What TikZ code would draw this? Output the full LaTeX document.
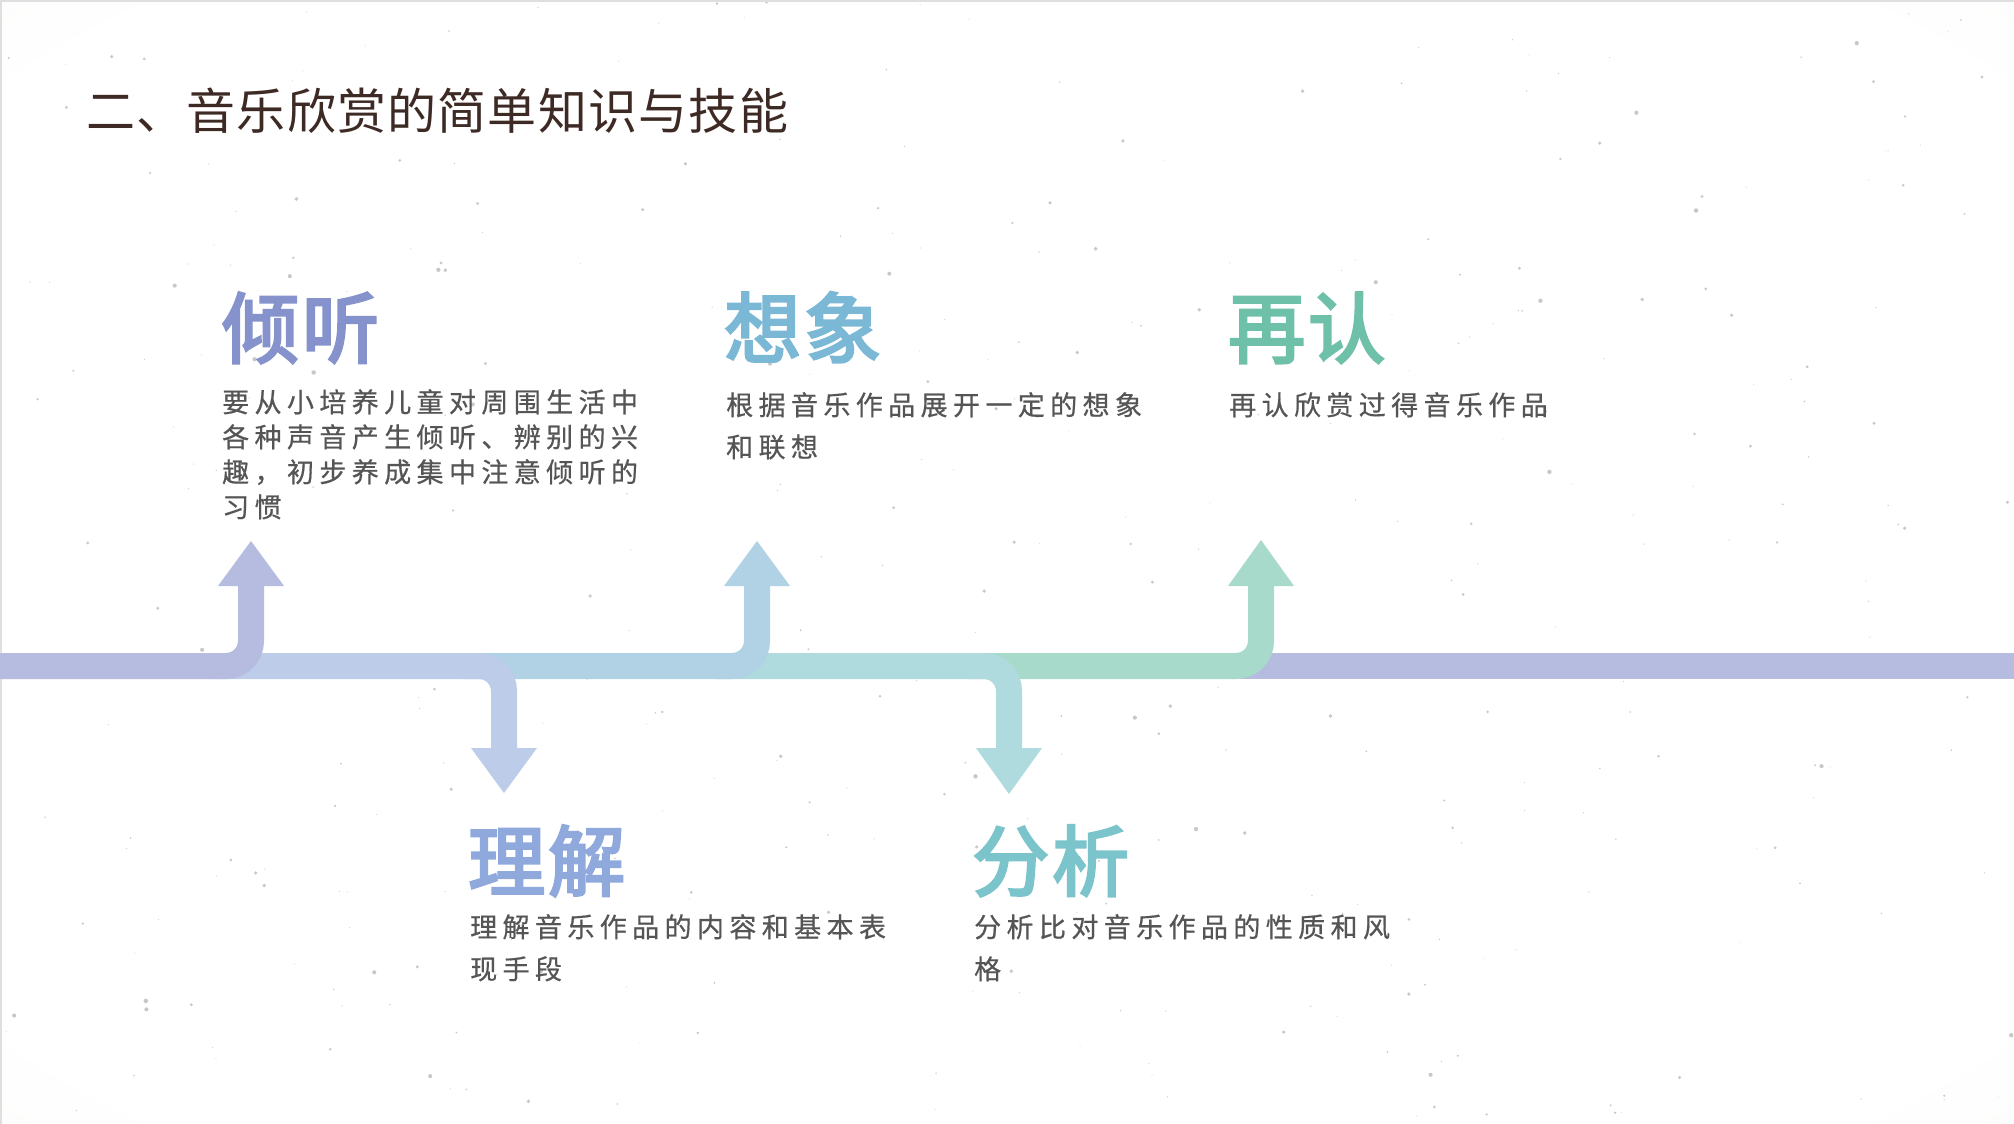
\documentclass[tikz,border=0pt]{standalone}
\usepackage{fontspec}
\newfontfamily\cjk[LetterSpace=2.5]{Noto Sans CJK SC}
\newfontfamily\cjkbody[LetterSpace=20,FakeBold=0.6]{Noto Sans CJK SC}
\newfontfamily\cjkhead[LetterSpace=4,FakeBold=3.5]{Noto Sans CJK SC}
\definecolor{cpur}{HTML}{B5BCDF}
\definecolor{clb}{HTML}{BCCCE9}
\definecolor{cblu}{HTML}{B0D2E4}
\definecolor{ctea}{HTML}{AFDADE}
\definecolor{cgrn}{HTML}{A8DACB}
\definecolor{hpur}{HTML}{8592CB}
\definecolor{hlb}{HTML}{8FA9DC}
\definecolor{hblu}{HTML}{7BB8D5}
\definecolor{htea}{HTML}{7BC4CB}
\definecolor{hgrn}{HTML}{6FC0A8}
\definecolor{bodygray}{HTML}{555555}
\definecolor{ttlbrown}{HTML}{3E2A24}
\definecolor{bggray}{HTML}{EBE9E7}
\pgfdeclareradialshading{bgshade}{\pgfpoint{0bp}{0bp}}{color(0bp)=(white); color(32bp)=(white); color(72bp)=(bggray)}
\tikzset{
  band/.style={line width=26pt, rounded corners=25pt},
  headtxt/.style={inner sep=0pt, anchor=base west, font=\cjkhead\fontsize{77}{77}\selectfont},
  bodytxt/.style={inner sep=0pt, anchor=north west, align=left, text=bodygray},
  speck/.style={fill=gray!85, opacity=0.5},
}
\begin{document}
\begin{tikzpicture}[x=1pt, y=-1pt]
\useasboundingbox (0,0) rectangle (2014,1124);
\shade[shading=bgshade] (0,0) rectangle (2014,1124);
\pgfmathsetseed{4711}
\foreach \k in {1,...,380}{
  \pgfmathsetmacro{\sx}{2014*rnd}
  \pgfmathsetmacro{\sy}{1124*rnd}
  \pgfmathsetmacro{\sr}{0.5+1.8*pow(rnd,3)}
  \fill[speck] (\sx,\sy) circle (\sr pt);
}
\draw[gray!25, line width=2pt] (1,1124) -- (1,1) -- (2014,1);

% title
\node[inner sep=0pt, anchor=west, text=ttlbrown, font=\cjk\fontsize{49}{49}\selectfont] (title) at (86,111) {二、音乐欣赏的简单知识与技能};

% timeline coordinates
\coordinate (s1) at (0,666);
\coordinate (s2) at (210,666);
\coordinate (s3) at (463,666);
\coordinate (s4) at (716,666);
\coordinate (s5) at (968,666);
\coordinate (s6) at (1220,666);
\coordinate (e6) at (2014,666);
\coordinate (a1) at (251,586);  \coordinate (p1) at (251,541);
\coordinate (a2) at (504,748);  \coordinate (p2) at (504,793);
\coordinate (a3) at (757,586);  \coordinate (p3) at (757,541);
\coordinate (a4) at (1009,748); \coordinate (p4) at (1009,794);
\coordinate (a5) at (1261,586); \coordinate (p5) at (1261,540);

% segments, drawn last-to-first so earlier ones lie on top
\draw[band, cpur] (s6) -- (e6);
\draw[band, cgrn] (s5) -| (a5);
\fill[cgrn] ([xshift=-33pt]a5) -- ([xshift=33pt]a5) -- (p5) -- cycle;
\draw[band, ctea] (s4) -| (a4);
\fill[ctea] ([xshift=-33pt]a4) -- ([xshift=33pt]a4) -- (p4) -- cycle;
\draw[band, cblu] (s3) -| (a3);
\fill[cblu] ([xshift=-33pt]a3) -- ([xshift=33pt]a3) -- (p3) -- cycle;
\draw[band, clb] (s2) -| (a2);
\fill[clb] ([xshift=-33pt]a2) -- ([xshift=33pt]a2) -- (p2) -- cycle;
\draw[band, cpur] (s1) -| (a1);
\fill[cpur] ([xshift=-33pt]a1) -- ([xshift=33pt]a1) -- (p1) -- cycle;

% headings
\node[headtxt, text=hpur] (h1) at (222,357) {倾听};
\node[headtxt, text=hblu] (h3) at (724,357) {想象};
\node[headtxt, text=hgrn] (h5) at (1228,357) {再认};
\node[headtxt, text=hlb]  (h2) at (468,890) {理解};
\node[headtxt, text=htea] (h4) at (972,890) {分析};

% bodies
\node[bodytxt, font=\cjkbody\fontsize{27}{35}\selectfont] (b1) at (222,389)
  {要从小培养儿童对周围生活中\\各种声音产生倾听、辨别的兴\\趣，初步养成集中注意倾听的\\习惯};
\node[bodytxt, font=\cjkbody\fontsize{27}{42}\selectfont] (b3) at (726,392)
  {根据音乐作品展开一定的想象\\和联想};
\node[bodytxt, font=\cjkbody\fontsize{27}{42}\selectfont] (b5) at (1229,392)
  {再认欣赏过得音乐作品};
\node[bodytxt, font=\cjkbody\fontsize{27}{42}\selectfont] (b2) at (470,914)
  {理解音乐作品的内容和基本表\\现手段};
\node[bodytxt, font=\cjkbody\fontsize{27}{42}\selectfont] (b4) at (974,914)
  {分析比对音乐作品的性质和风\\格};
\end{tikzpicture}
\end{document}
